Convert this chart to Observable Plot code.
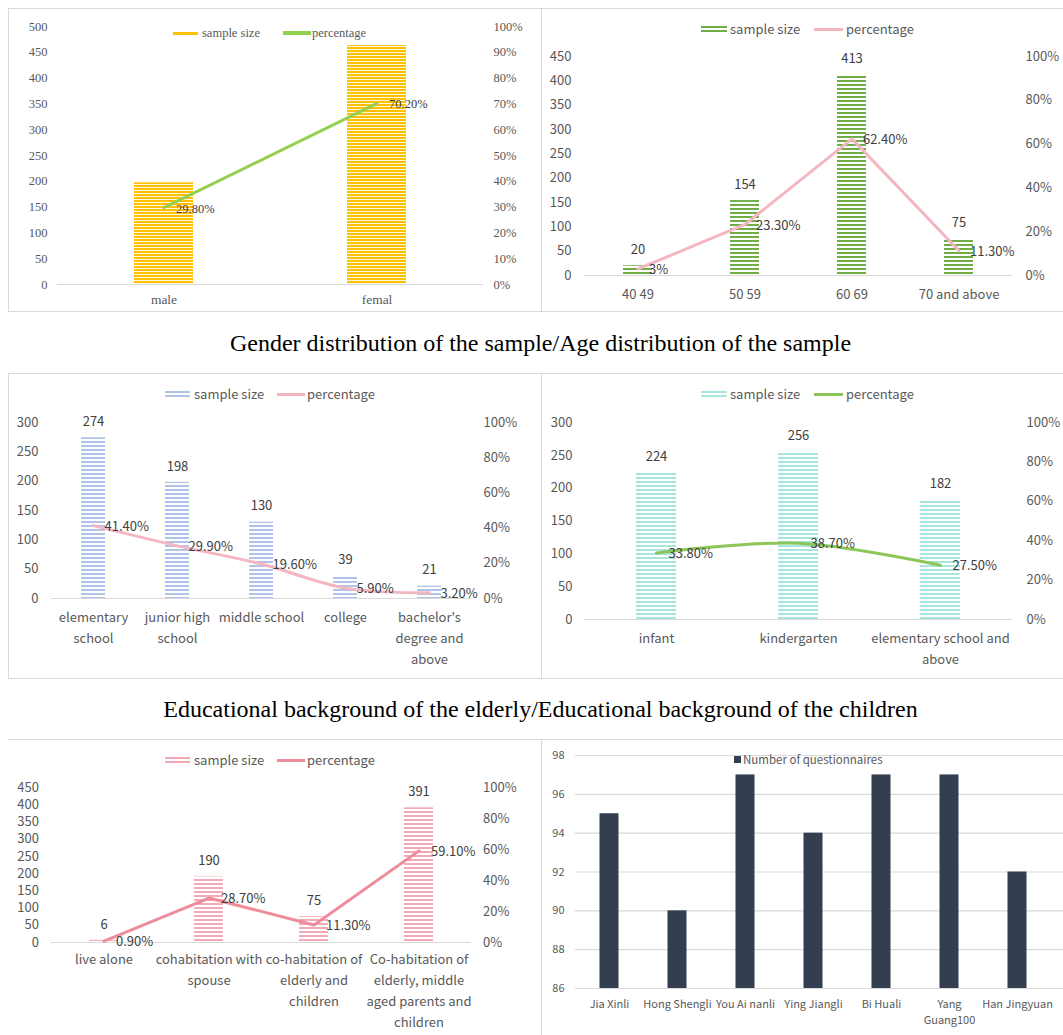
<!DOCTYPE html>
<html><head><meta charset="utf-8">
<script src="https://cdn.jsdelivr.net/npm/d3@7"></script>
<script src="https://cdn.jsdelivr.net/npm/@observablehq/plot@0.6"></script>
<style>
html,body{margin:0;padding:0;background:#fff}
body{width:1063px;height:1035px;position:relative;overflow:hidden}
.box{position:absolute;border:1px solid #d9d9d9;box-sizing:border-box}
.pl{position:absolute}
.cap{position:absolute;left:0;width:1081px;text-align:center;font-family:"Liberation Serif","Times New Roman",serif;font-size:24px;color:#000;line-height:26px}
.leg{position:absolute;white-space:nowrap;color:#595959;height:16px;line-height:16px}
.sw{position:absolute}
</style></head><body>
<script>
// ---------- DATA ----------
const genderCats = ["male", "femal"];
const genderCounts = [197, 463];
const genderPct = [29.8, 70.2];
const genderPctLabels = ["29.80%", "70.20%"];
const genderLeftTicks = [0, 50, 100, 150, 200, 250, 300, 350, 400, 450, 500];
const genderRightTicks = [0, 10, 20, 30, 40, 50, 60, 70, 80, 90, 100];

const ageCats = ["40 49", "50 59", "60 69", "70 and above"];
const ageCounts = [20, 154, 413, 75];
const agePct = [3, 23.3, 62.4, 11.3];
const agePctLabels = ["3%", "23.30%", "62.40%", "11.30%"];
const ageLeftTicks = [0, 50, 100, 150, 200, 250, 300, 350, 400, 450];
const ageRightTicks = [0, 20, 40, 60, 80, 100];

const eduElderCats = ["elementary school", "junior high school", "middle school", "college", "bachelor's degree and above"];
const eduElderTickLabels = ["elementary\nschool", "junior high\nschool", "middle school", "college", "bachelor's\ndegree and\nabove"];
const eduElderCounts = [274, 198, 130, 39, 21];
const eduElderPct = [41.4, 29.9, 19.6, 5.9, 3.2];
const eduElderPctLabels = ["41.40%", "29.90%", "19.60%", "5.90%", "3.20%"];
const eduElderLeftTicks = [0, 50, 100, 150, 200, 250, 300];
const eduElderRightTicks = [0, 20, 40, 60, 80, 100];

const eduChildCats = ["infant", "kindergarten", "elementary school and above"];
const eduChildTickLabels = ["infant", "kindergarten", "elementary school and\nabove"];
const eduChildCounts = [224, 256, 182];
const eduChildPct = [33.8, 38.7, 27.5];
const eduChildPctLabels = ["33.80%", "38.70%", "27.50%"];
const eduChildLeftTicks = [0, 50, 100, 150, 200, 250, 300];
const eduChildRightTicks = [0, 20, 40, 60, 80, 100];

const livingCats = ["live alone", "cohabitation with spouse", "co-habitation of elderly and children", "Co-habitation of elderly, middle aged parents and children"];
const livingTickLabels = ["live alone", "cohabitation with\nspouse", "co-habitation of\nelderly and\nchildren", "Co-habitation of\nelderly, middle\naged parents and\nchildren"];
const livingCounts = [6, 190, 75, 391];
const livingPct = [0.9, 28.7, 11.3, 59.1];
const livingPctLabels = ["0.90%", "28.70%", "11.30%", "59.10%"];
const livingLeftTicks = [0, 50, 100, 150, 200, 250, 300, 350, 400, 450];
const livingRightTicks = [0, 20, 40, 60, 80, 100];

const siteCats = ["Jia Xinli", "Hong Shengli", "You Ai nanli", "Ying Jiangli", "Bi Huali", "Yang Guang100", "Han Jingyuan"];
const siteTickLabels = ["Jia Xinli", "Hong Shengli", "You Ai nanli", "Ying Jiangli", "Bi Huali", "Yang\nGuang100", "Han Jingyuan"];
const siteCounts = [95, 90, 97, 94, 97, 97, 92];
const siteTicks = [86, 88, 90, 92, 94, 96, 98];

const captions = [
  "Gender distribution of the sample/Age distribution of the sample",
  "Educational background of the elderly/Educational background of the children"
];

// ---------- HELPERS ----------
const SANS = '"Noto Sans CJK SC","Noto Sans",sans-serif';
const SERIF = '"Liberation Serif","Times New Roman",serif';
const NS = "http://www.w3.org/2000/svg";

function el(tag, cls, css, text) {
  const e = document.createElement(tag);
  if (cls) e.className = cls;
  Object.assign(e.style, css || {});
  if (text != null) e.textContent = text;
  document.body.appendChild(e);
  return e;
}
function box(l, t, w, h, extra) { el("div", "box", Object.assign({left: l + "px", top: t + "px", width: w + "px", height: h + "px"}, extra || {})); }

function addPattern(svg, id, color, h, band) {
  const defs = document.createElementNS(NS, "defs");
  const p = document.createElementNS(NS, "pattern");
  p.setAttribute("id", id);
  p.setAttribute("patternUnits", "userSpaceOnUse");
  p.setAttribute("width", 4); p.setAttribute("height", h);
  const bg = document.createElementNS(NS, "rect");
  bg.setAttribute("width", 4); bg.setAttribute("height", h); bg.setAttribute("fill", "#fff");
  const r = document.createElementNS(NS, "rect");
  r.setAttribute("width", 4); r.setAttribute("height", band); r.setAttribute("fill", color);
  p.appendChild(bg); p.appendChild(r); defs.appendChild(p);
  svg.insertBefore(defs, svg.firstChild);
}

function place(svg, l, t) {
  svg.classList.add("pl");
  svg.style.left = l + "px"; svg.style.top = t + "px";
  svg.style.overflow = "visible";
  document.body.appendChild(svg);
}

function combo(c) {
  const rows = c.cats.map((cat, i) => ({cat, n: c.counts[i], pctLabel: c.pctLabels[i], yp: c.pct[i] / 100 * c.yMax}));
  const tl = new Map(c.cats.map((cat, i) => [cat, c.tickLabels[i]]));
  const marks = [
    Plot.barY(rows, {x: "cat", y: "n", fill: `url(#${c.id})`, insetLeft: c.inset, insetRight: c.inset}),
    Plot.ruleY([0], {stroke: "#d9d9d9", strokeWidth: 1}),
    Plot.axisY({ticks: c.leftTicks, tickSize: 0, tickPadding: c.lp, label: null}),
    Plot.axisY({anchor: "right", ticks: c.rightTicks.map(p => p / 100 * c.yMax), tickFormat: v => Math.round(v / c.yMax * 100) + "%", tickSize: 0, tickPadding: c.rp, label: null}),
    Plot.axisX({tickSize: 0, tickPadding: c.xp, tickFormat: d => tl.get(d), lineHeight: c.lh, fontSize: c.xfs || c.fs, label: null}),
    Plot.lineY(rows, {x: "cat", y: "yp", stroke: c.lineColor, strokeWidth: 3, curve: c.curve}),
    Plot.text(rows, {x: "cat", y: "yp", text: "pctLabel", textAnchor: "start", dx: c.pdx, dy: 1, fill: "#404040", fontSize: c.fs})
  ];
  if (c.valueLabels) marks.push(Plot.text(rows, {x: "cat", y: "n", text: d => String(d.n), dy: -16, fill: "#404040", fontSize: c.fs}));
  const svg = Plot.plot({
    width: c.w, height: c.h,
    marginLeft: c.mL, marginRight: c.mR, marginTop: c.mT, marginBottom: c.mB,
    style: {fontFamily: c.font, fontSize: c.fs + "px", color: "#595959", background: "transparent"},
    x: {domain: c.cats, padding: 0},
    y: {domain: [0, c.yMax]},
    marks
  });
  addPattern(svg, c.id, c.barColor, c.ph, c.pb);
  place(svg, c.left, c.top);
}

function legend(y, items, font, fs) {
  for (const it of items) {
    if (it.type === "stripe") {
      el("div", "sw", {left: it.x0 + "px", top: (y - 3) + "px", width: (it.x1 - it.x0) + "px", height: "7px",
        background: `repeating-linear-gradient(to bottom, ${it.color} 0px, ${it.color} 2px, #fff 2px, #fff 4px)`});
    } else if (it.type === "line") {
      el("div", "sw", {left: it.x0 + "px", top: (y - it.t / 2) + "px", width: (it.x1 - it.x0) + "px", height: it.t + "px", background: it.color});
    } else if (it.type === "square") {
      el("div", "sw", {left: it.x0 + "px", top: (y - 3.5) + "px", width: "7px", height: "7px", background: it.color});
    }
    el("div", "leg", {left: it.tx + "px", top: (y - 8) + "px", fontFamily: font, fontSize: fs + "px"}, it.label);
  }
}

// ---------- BOXES ----------
box(8, 8, 534, 304);
box(541, 8, 540, 304);
box(8, 373, 534, 306);
box(541, 373, 540, 306);
box(8, 739, 534, 320, {borderLeft: "none"});
box(541, 739, 540, 320);

// ---------- PANEL 1: gender ----------
combo({id: "p1", cats: genderCats, tickLabels: genderCats, counts: genderCounts, pct: genderPct, pctLabels: genderPctLabels,
  leftTicks: genderLeftTicks, rightTicks: genderRightTicks, yMax: 500,
  left: 8, top: 8, w: 533, h: 303, mL: 49, mR: 58, mT: 18, mB: 27, inset: 77, lp: 10, rp: 10, xp: 8, lh: 1.2, xfs: 13.5,
  font: SERIF, fs: 12.5, barColor: "#FFC000", ph: 3, pb: 2.1, lineColor: "#92D050", curve: "linear", pdx: 12, valueLabels: false});
legend(33, [
  {type: "line", x0: 173, x1: 198, t: 3, color: "#FFC000", tx: 202, label: "sample size"},
  {type: "line", x0: 283, x1: 311, t: 4, color: "#92D050", tx: 312, label: "percentage"}
], SERIF, 12.5);

// ---------- PANEL 2: age ----------
combo({id: "p2", cats: ageCats, tickLabels: ageCats, counts: ageCounts, pct: agePct, pctLabels: agePctLabels,
  leftTicks: ageLeftTicks, rightTicks: ageRightTicks, yMax: 450,
  left: 541, top: 8, w: 522, h: 303, mL: 43, mR: 51, mT: 48, mB: 36, inset: 39, lp: 13, rp: 13, xp: 9, lh: 1.6,
  font: SANS, fs: 13, barColor: "#70AD47", ph: 4, pb: 2, lineColor: "#F4B6C0", curve: "linear", pdx: 11, valueLabels: true});
legend(29, [
  {type: "stripe", x0: 701, x1: 727, color: "#70AD47", tx: 730, label: "sample size"},
  {type: "line", x0: 814, x1: 843, t: 3, color: "#F4B6C0", tx: 846, label: "percentage"}
], SANS, 13);

// ---------- PANEL 3: education elderly ----------
combo({id: "p3", cats: eduElderCats, tickLabels: eduElderTickLabels, counts: eduElderCounts, pct: eduElderPct, pctLabels: eduElderPctLabels,
  leftTicks: eduElderLeftTicks, rightTicks: eduElderRightTicks, yMax: 300,
  left: 8, top: 373, w: 533, h: 305, mL: 43, mR: 70, mT: 49, mB: 80, inset: 30, lp: 13, rp: 12, xp: 9, lh: 1.6,
  font: SANS, fs: 13, barColor: "#AFC3E9", ph: 4, pb: 2, lineColor: "#F4B6C0", curve: "catmull-rom", pdx: 11, valueLabels: true});
legend(394, [
  {type: "stripe", x0: 165, x1: 190, color: "#AFC3E9", tx: 194, label: "sample size"},
  {type: "line", x0: 277, x1: 305, t: 3, color: "#F4B6C0", tx: 307, label: "percentage"}
], SANS, 13);

// ---------- PANEL 4: education children ----------
combo({id: "p4", cats: eduChildCats, tickLabels: eduChildTickLabels, counts: eduChildCounts, pct: eduChildPct, pctLabels: eduChildPctLabels,
  leftTicks: eduChildLeftTicks, rightTicks: eduChildRightTicks, yMax: 300,
  left: 541, top: 373, w: 522, h: 305, mL: 43, mR: 51, mT: 49, mB: 59, inset: 51, lp: 12, rp: 14, xp: 9, lh: 1.6,
  font: SANS, fs: 13, barColor: "#A6E6DE", ph: 4, pb: 2, lineColor: "#8CC659", curve: "catmull-rom", pdx: 12, valueLabels: true});
legend(394, [
  {type: "stripe", x0: 701, x1: 727, color: "#A6E6DE", tx: 730, label: "sample size"},
  {type: "line", x0: 814, x1: 843, t: 3, color: "#8CC659", tx: 846, label: "percentage"}
], SANS, 13);

// ---------- PANEL 5: living arrangement ----------
combo({id: "p5", cats: livingCats, tickLabels: livingTickLabels, counts: livingCounts, pct: livingPct, pctLabels: livingPctLabels,
  leftTicks: livingLeftTicks, rightTicks: livingRightTicks, yMax: 450,
  left: 8, top: 739, w: 533, h: 296, mL: 42.5, mR: 70.5, mT: 48, mB: 93, inset: 38, lp: 12, rp: 12, xp: 7, lh: 1.6,
  font: SANS, fs: 13, barColor: "#F4A9B6", ph: 4, pb: 2, lineColor: "#EE8C9B", curve: "linear", pdx: 12, valueLabels: true});
legend(760, [
  {type: "stripe", x0: 165, x1: 190, color: "#F4A9B6", tx: 194, label: "sample size"},
  {type: "line", x0: 277, x1: 305, t: 3, color: "#EE8C9B", tx: 307, label: "percentage"}
], SANS, 13);

// ---------- PANEL 6: questionnaires ----------
{
  const rows = siteCats.map((cat, i) => ({cat, n: siteCounts[i]}));
  const tl = new Map(siteCats.map((c, i) => [c, siteTickLabels[i]]));
  const base = siteTicks[0];
  const svg = Plot.plot({
    width: 522, height: 296, marginLeft: 34, marginRight: 0, marginTop: 16, marginBottom: 47,
    style: {fontFamily: SANS, fontSize: "11px", color: "#595959", background: "transparent"},
    x: {domain: siteCats, padding: 0, insetRight: 12},
    y: {domain: [siteTicks[0], siteTicks[siteTicks.length - 1]]},
    marks: [
      Plot.gridY({ticks: siteTicks, stroke: "#d9d9d9", strokeOpacity: 1, strokeWidth: 1.2}),
      Plot.barY(rows, {x: "cat", y1: base, y2: "n", fill: "#333F50", insetLeft: 24.5, insetRight: 24.5}),
      Plot.axisY({ticks: siteTicks, tickSize: 0, tickPadding: 11, label: null}),
      Plot.axisX({tickSize: 0, tickPadding: 9, tickFormat: d => tl.get(d), lineHeight: 1.4, label: null})
    ]
  });
  place(svg, 541, 739);
  legend(759, [{type: "square", x0: 734, color: "#333F50", tx: 743, label: "Number of questionnaires"}], SANS, 11.5);
}

// ---------- CAPTIONS ----------
el("div", "cap", {top: (343 - 13) + "px"}, captions[0]);
el("div", "cap", {top: (709 - 13) + "px"}, captions[1]);
</script>
</body></html>
